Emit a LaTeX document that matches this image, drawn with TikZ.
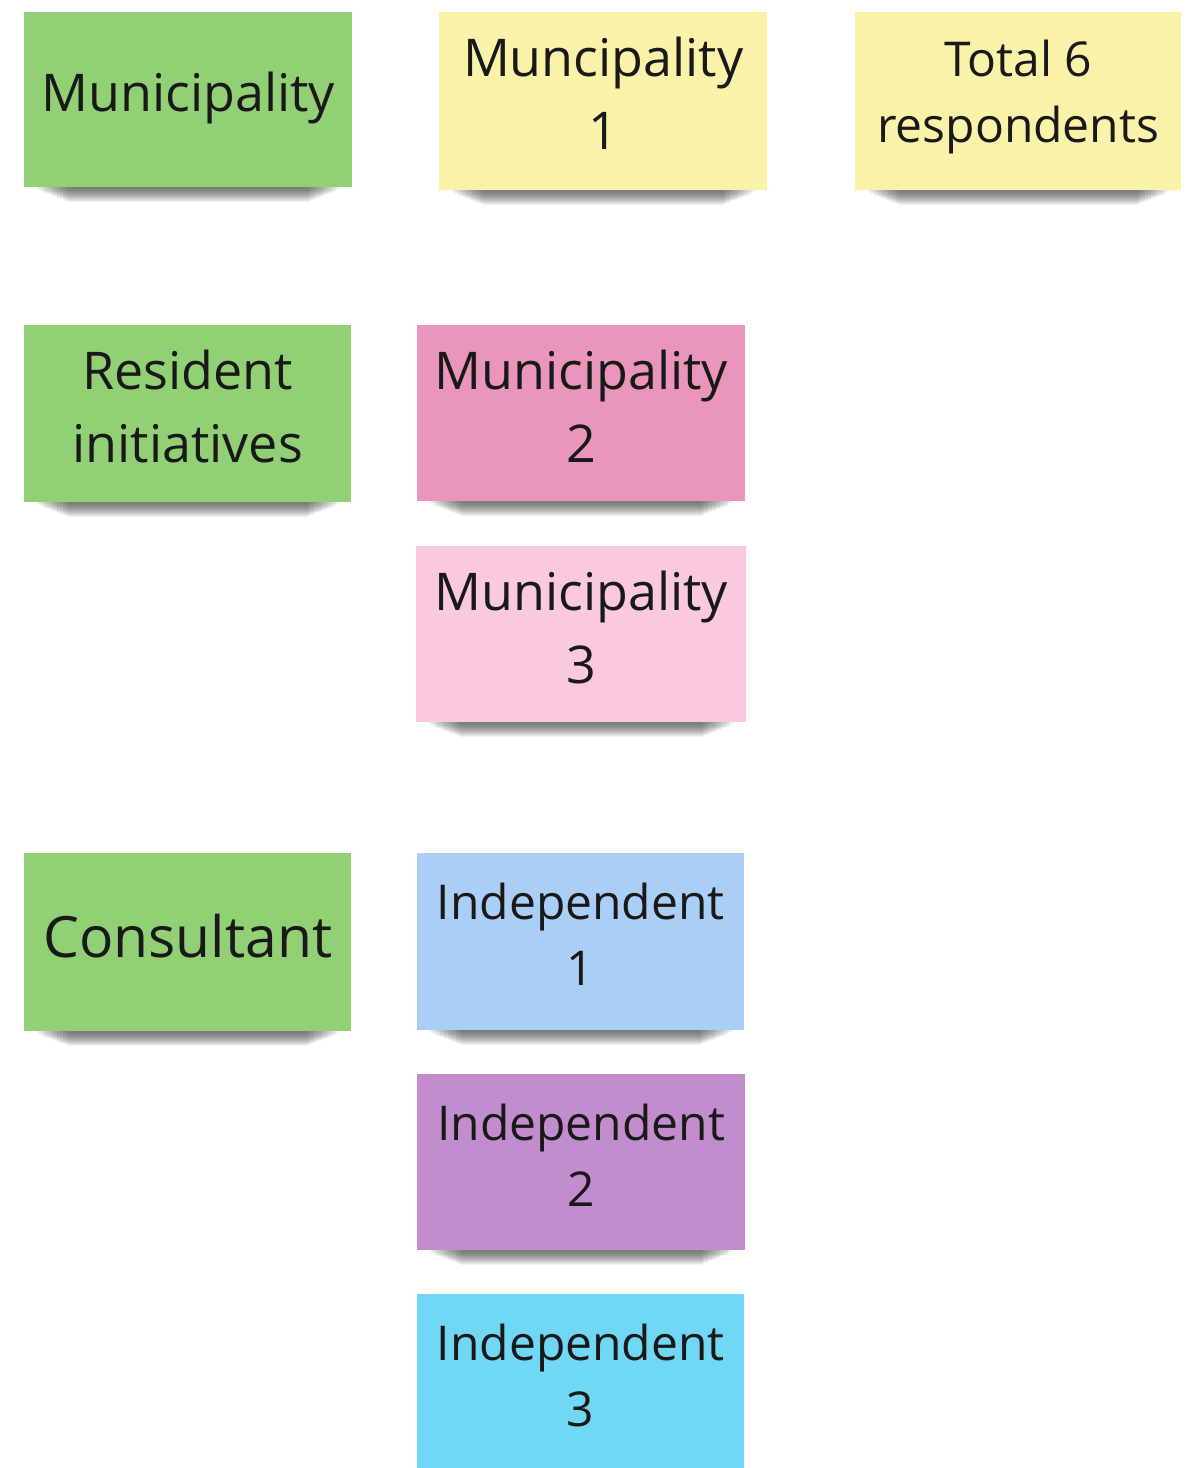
\documentclass[tikz,border=0pt]{standalone}
\usepackage{fontspec}
\setmainfont{Open Sans}
\usetikzlibrary{calc}
\pgfdeclarelayer{bg}
\pgfsetlayers{bg,main}
\definecolor{notegreen}{RGB}{146,208,118}
\definecolor{noteyellow}{RGB}{249,242,168}
\definecolor{notepink}{RGB}{234,150,188}
\definecolor{notelpink}{RGB}{250,201,223}
\definecolor{notelblue}{RGB}{170,206,245}
\definecolor{notepurple}{RGB}{195,141,205}
\definecolor{notecyan}{RGB}{112,215,245}
\definecolor{inkc}{RGB}{25,25,25}
\tikzset{
  sticky/.style={anchor=north west, inner sep=0pt, draw=none},
  notetext/.style={inner sep=0pt, align=center, text=inkc},
  bigtxt/.style={notetext, font=\fontsize{52}{73}\selectfont},
  hugetxt/.style={notetext, font=\fontsize{57}{78}\selectfont},
  smalltxt/.style={notetext, font=\fontsize{48}{66}\selectfont},
  shadowpiece/.style={fill=black, opacity=0.05, draw=none}
}
\newcommand{\noteshadow}[1]{%
  \foreach \k in {1,...,13}{%
    \fill[shadowpiece] ($(#1.south west)+(10+2.6*\k,0)$) rectangle ($(#1.south east)+(-10-2.6*\k,1.05*\k+1)$);
  }%
}
\begin{document}
\begin{tikzpicture}[x=1pt,y=-1pt]
\useasboundingbox (0,0) rectangle (1198,1468);

\node[sticky, fill=notegreen, minimum width=328pt, minimum height=175pt] (mun) at (24,12) {};
\node[bigtxt, yshift=2pt] (mun-t) at (mun.center) {Municipality};
\node[sticky, fill=noteyellow, minimum width=328pt, minimum height=178pt] (m1) at (439,12) {};
\node[bigtxt, yshift=8pt] (m1-t) at (m1.center) {Muncipality\\1};
\node[sticky, fill=noteyellow, minimum width=326pt, minimum height=178pt] (tot) at (855,12) {};
\node[smalltxt, yshift=4pt] (tot-t) at (tot.center) {Total 6\\respondents};

\node[sticky, fill=notegreen, minimum width=327pt, minimum height=177pt] (res) at (24,325) {};
\node[bigtxt, yshift=7pt] (res-t) at (res.center) {Resident\\initiatives};
\node[sticky, fill=notepink, minimum width=328pt, minimum height=176pt] (m2) at (417,325) {};
\node[bigtxt, yshift=7pt] (m2-t) at (m2.center) {Municipality\\2};
\node[sticky, fill=notelpink, minimum width=330pt, minimum height=176pt] (m3) at (416,546) {};
\node[bigtxt, yshift=7pt] (m3-t) at (m3.center) {Municipality\\3};

\node[sticky, fill=notegreen, minimum width=327pt, minimum height=178pt] (con) at (24,853) {};
\node[hugetxt, yshift=6pt] (con-t) at (con.center) {Consultant};
\node[sticky, fill=notelblue, minimum width=327pt, minimum height=177pt] (i1) at (417,853) {};
\node[smalltxt, yshift=7pt] (i1-t) at (i1.center) {Independent\\1};
\node[sticky, fill=notepurple, minimum width=328pt, minimum height=176pt] (i2) at (417,1074) {};
\node[smalltxt, yshift=7pt] (i2-t) at (i2.center) {Independent\\2};
\node[sticky, fill=notecyan, minimum width=327pt, minimum height=177pt] (i3) at (417,1294) {};
\node[smalltxt, yshift=7pt] (i3-t) at (i3.center) {Independent\\3};

\begin{pgfonlayer}{bg}
\fill[white] (0,0) rectangle (1198,1468);
\foreach \n in {mun,m1,tot,res,m2,m3,con,i1,i2}{\noteshadow{\n}}
\end{pgfonlayer}
\end{tikzpicture}
\end{document}
